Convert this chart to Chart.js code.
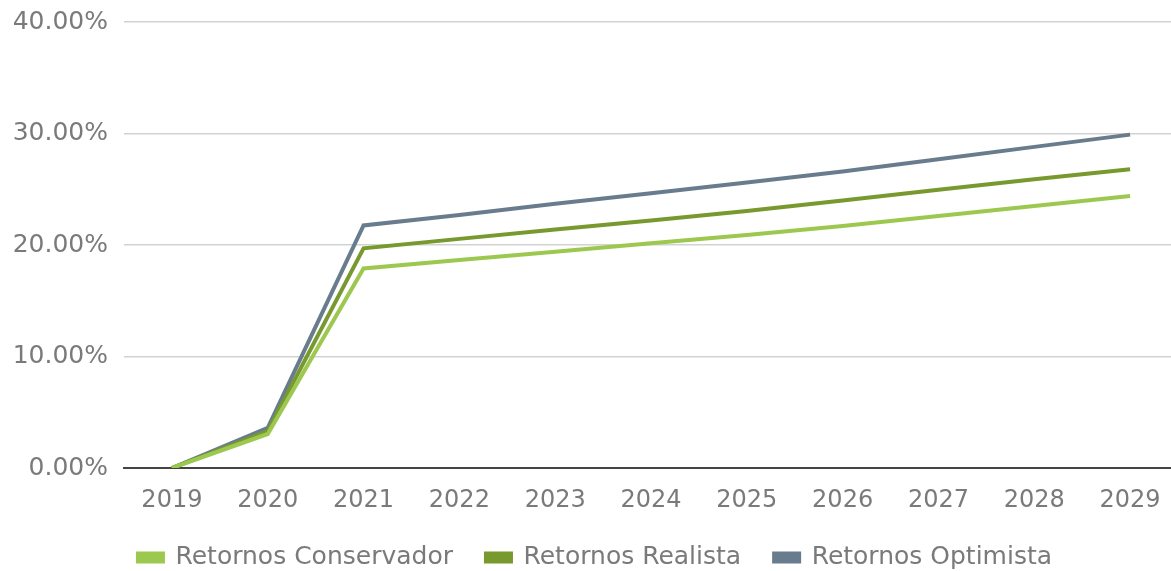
<!DOCTYPE html>
<html>
<head>
<meta charset="utf-8">
<script src="https://cdn.jsdelivr.net/npm/chart.js@4"></script>
<style>
  html, body { margin: 0; padding: 0; background: #fff; overflow: hidden; }
  #wrap { position: relative; width: 1178px; height: 571px; }
</style>
</head>
<body>
<div id="wrap"><canvas id="myChart"></canvas></div>
<script>
// years on the x axis
const years = ['2019', '2020', '2021', '2022', '2023', '2024', '2025', '2026', '2027', '2028', '2029'];

// cumulative returns, in percent
const conservador = [0, 3.05, 17.9, 18.65, 19.4, 20.15, 20.9, 21.7, 22.6, 23.5, 24.4];
const realista = [0, 3.3, 19.7, 20.55, 21.4, 22.2, 23.05, 24.0, 24.95, 25.9, 26.8];
const optimista = [0, 3.6, 21.75, 22.7, 23.7, 24.65, 25.6, 26.6, 27.7, 28.8, 29.9];

const yTicks = [0, 10, 20, 30, 40];

const fontFamily = '"DejaVu Sans", Verdana, sans-serif';
const textColor = '#7a7a7a';

function makeSet(label, data, color) {
    return {
        label: label,
        data: data,
        borderColor: color,
        backgroundColor: color,
        borderWidth: 4,
        pointRadius: 0,
        tension: 0,
        fill: false
    };
}

const ctx = document.getElementById('myChart');
const myChart = new Chart(ctx, {
    type: 'line',
    data: {
        labels: years,
        datasets: [
            makeSet('Retornos Conservador', conservador, '#9dc850'),
            makeSet('Retornos Realista', realista, '#77992e'),
            makeSet('Retornos Optimista', optimista, '#697c8e')
        ]
    },
    options: {
        responsive: true,
        maintainAspectRatio: false,
        animation: false,
        layout: {
            autoPadding: false,
            padding: { top: 22, left: 12, right: 0, bottom: -9 }
        },
        plugins: {
            legend: {
                position: 'bottom',
                labels: {
                    boxWidth: 25,
                    boxHeight: 8,
                    padding: 33,
                    color: textColor,
                    font: { family: fontFamily, size: 25 }
                }
            },
            tooltip: { enabled: false }
        },
        scales: {
            x: {
                offset: true,
                grid: { display: false },
                border: { display: true, color: '#444', width: 2 },
                ticks: {
                    color: textColor,
                    padding: 10,
                    maxRotation: 0,
                    font: { family: fontFamily, size: 24 }
                },
                afterFit: function(axis) { axis.height = 44; }
            },
            y: {
                min: 0,
                max: 40,
                afterBuildTicks: function(axis) {
                    axis.ticks = yTicks.map(v => ({value: v}));
                },
                grid: { color: '#d2d2d2', lineWidth: 1.5, drawTicks: false },
                border: { display: false },
                ticks: {
                    color: textColor,
                    padding: 16,
                    font: { family: fontFamily, size: 25 },
                    callback: function(v) { return v.toFixed(2) + '%'; }
                },
                afterFit: function(axis) {
                    axis.width = 112;
                    axis.paddingTop = 0;
                    axis.paddingBottom = 0;
                }
            }
        }
    }
});
</script>
</body>
</html>
